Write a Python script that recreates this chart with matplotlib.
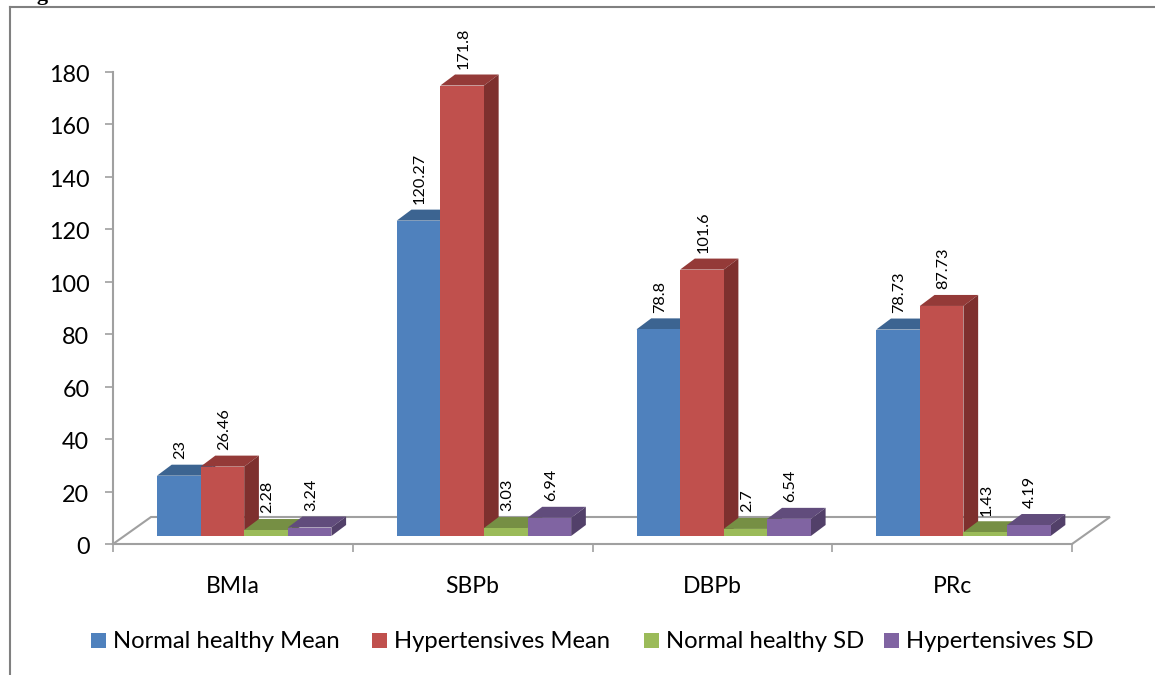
import matplotlib
matplotlib.use('Agg')
import matplotlib.pyplot as plt
from matplotlib.lines import Line2D
from matplotlib.patches import Polygon, Rectangle
from matplotlib.transforms import ScaledTranslation

W, H = 1155, 675

categories = ['BMIa', 'SBPb', 'DBPb', 'PRc']
series_names = ['Normal healthy Mean', 'Hypertensives Mean', 'Normal healthy SD', 'Hypertensives SD']
normal_mean = [23, 120.27, 78.8, 78.73]
hyper_mean = [26.46, 171.8, 101.6, 87.73]
normal_sd = [2.28, 3.03, 2.7, 1.43]
hyper_sd = [3.24, 6.94, 6.54, 4.19]
value_labels = [
    ['23', '120.27', '78.8', '78.73'],
    ['26.46', '171.8', '101.6', '87.73'],
    ['2.28', '3.03', '2.7', '1.43'],
    ['3.24', '6.94', '6.54', '4.19'],
]
y_ticks = list(range(0, 181, 20))

FACE = ['#4f81bd', '#c0504d', '#9bbb59', '#8064a2']
TOP = ['#3c6491', '#943a38', '#768f44', '#614c7c']
SIDE = ['#345780', '#7e302e', '#65793a', '#524069']
GRAY = '#a0a0a0'

plt.rcParams['font.family'] = ['Lato', 'DejaVu Sans']

fig = plt.figure(figsize=(W / 100, H / 100), dpi=100)
# plot box in pixels: x 113-1072, y 72-544
ax = fig.add_axes([113 / W, 1 - 544 / H, (1072 - 113) / W, (544 - 72) / H])
ax.set_xlim(0, 4)
ax.set_ylim(0, 180)

px_x = 4 / (1072 - 113)
px_y = 180 / (544 - 72)

# floor of the 3D chart
floor_dx, floor_dy = 38 * px_x, 27 * px_y
floor = [(0, 0), (floor_dx, floor_dy), (4 + floor_dx, floor_dy), (4, 0)]
ax.add_patch(Polygon(floor, closed=False, fill=False, edgecolor=GRAY, lw=1.5, clip_on=False, zorder=1))

# bars stand a little in front of the floor's back edge
base = 8 * px_y
bar_w = 43.6 * px_x
depth_x, depth_y = 14.7 * px_x, 11 * px_y
group_left = 44 * px_x

all_series = [normal_mean, hyper_mean, normal_sd, hyper_sd]
z = 3
for c in range(len(categories)):
    for s, values in enumerate(all_series):
        v = values[c]
        x0 = c + group_left + s * bar_w
        x1 = x0 + bar_w
        top = base + v
        ax.bar(x0, v, bar_w, bottom=base, align='edge', color=FACE[s], lw=0, zorder=z + 0.2)
        ax.add_patch(Polygon([(x0, top), (x0 + depth_x, top + depth_y), (x1 + depth_x, top + depth_y), (x1, top)],
                             facecolor=TOP[s], lw=0, clip_on=False, zorder=z))
        ax.add_patch(Polygon([(x1, base), (x1 + depth_x, base + depth_y), (x1 + depth_x, top + depth_y), (x1, top)],
                             facecolor=SIDE[s], lw=0, clip_on=False, zorder=z + 0.1))
        ax.annotate(value_labels[s][c], (x0 + bar_w / 2, top + depth_y), xytext=(1, 4), textcoords='offset points',
                    rotation=90, ha='center', va='bottom', fontsize=11.7, color='black', zorder=20, annotation_clip=False)
        z += 1

for side in ['top', 'right']:
    ax.spines[side].set_visible(False)
for side in ['left', 'bottom']:
    ax.spines[side].set_color(GRAY)
    ax.spines[side].set_linewidth(1.5)

ax.set_yticks(y_ticks)
ax.set_xticks(range(5))
ax.set_xticklabels([])
ax.set_xticks([i + 0.5 for i in range(4)], minor=True)
ax.set_xticklabels(categories, minor=True)
ax.tick_params(axis='y', length=5.5, width=1.2, color=GRAY, labelsize=16.8, pad=11.5)
ax.tick_params(axis='x', which='major', length=6, width=1.2, color=GRAY)
ax.tick_params(axis='x', which='minor', length=0, labelsize=16.5, pad=23)

# nudge the y labels down a touch
nudge = ScaledTranslation(0, -1.5 / 100, fig.dpi_scale_trans)
for lab in ax.get_yticklabels():
    lab.set_transform(lab.get_transform() + nudge)

# legend row, placed by hand so the spacing stays tight
legend_x = [91, 372, 644, 884]
for x, name, col in zip(legend_x, series_names, FACE):
    fig.add_artist(Rectangle((x / W, 1 - 648 / H), 15 / W, 15 / H, transform=fig.transFigure, facecolor=col, lw=0))
    fig.text((x + 22) / W, 1 - 642 / H, name, fontsize=17.2, va='center', ha='left', color='black')

# outer frame: top and left edges only
fig.add_artist(Line2D([10 / W, 1], [1 - 6.5 / H, 1 - 6.5 / H], transform=fig.transFigure, color='#808080', lw=1.5))
fig.add_artist(Line2D([10 / W, 10 / W], [0, 1 - 6.5 / H], transform=fig.transFigure, color='#808080', lw=1.5))
fig.text(17 / W, 1 - 0 / H, 'Figure 6', family='Liberation Serif', fontweight='bold', fontsize=16,
         va='baseline', ha='left', color='black')

fig.savefig('out.png', dpi=100)
